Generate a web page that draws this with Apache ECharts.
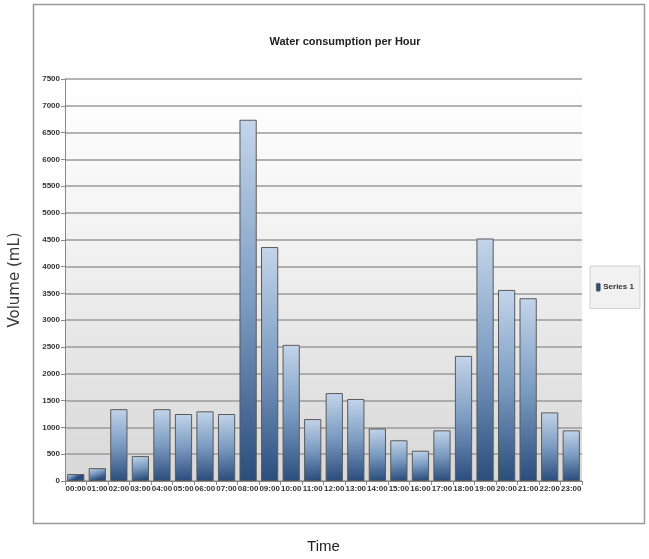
<!DOCTYPE html>
<html>
<head>
<meta charset="utf-8">
<script src="https://cdn.jsdelivr.net/npm/echarts@6/dist/echarts.min.js"></script>
<style>
  html, body { margin: 0; padding: 0; background: #fff; }
  #chart { width: 649px; height: 559px; }
</style>
</head>
<body>
<div id="chart"></div>
<script>
// hours of the day
const hours = ["00:00", "01:00", "02:00", "03:00", "04:00", "05:00", "06:00", "07:00",
  "08:00", "09:00", "10:00", "11:00", "12:00", "13:00", "14:00", "15:00",
  "16:00", "17:00", "18:00", "19:00", "20:00", "21:00", "22:00", "23:00"];
// volume in mL
const volume = [130, 240, 1340, 465, 1340, 1250, 1300, 1250,
  6740, 4365, 2540, 1155, 1640, 1530, 980, 760,
  565, 945, 2335, 4525, 3565, 3410, 1280, 945];
const seriesName = "Series 1";

const labelFont = "Liberation Sans";

const myChart = echarts.init(document.getElementById("chart"));
const option = {
  animation: false,
  title: {
    text: "Water consumption per Hour",
    left: 340,
    top: 31,
    textAlign: "center",
    textStyle: { fontFamily: labelFont, fontSize: 11, fontWeight: "bold", color: "#222" },
  },
  graphic: [
    {
      type: "rect",
      shape: { x: 33.5, y: 4.5, width: 611, height: 519 },
      style: { fill: "none", stroke: "#999", lineWidth: 1.5 },
      z: -1,
    },
  ],
  legend: {
    data: [seriesName],
    orient: "vertical",
    left: 590,
    top: 266,
    padding: [17, 6, 17, 6],
    itemWidth: 4,
    itemHeight: 8,
    itemGap: 3,
    backgroundColor: "#f1f1f1",
    borderColor: "#d0d0d0",
    borderWidth: 1,
    itemStyle: { color: "#2b4d7c", borderColor: "#555", borderWidth: 0.5 },
    textStyle: { fontFamily: labelFont, fontSize: 8, fontWeight: "bold", color: "#333", padding: [0, 0, 0, -2] },
  },
  grid: {
    left: 62,
    right: 67,
    top: 79,
    bottom: 77,
    show: true,
    borderWidth: 0,
    backgroundColor: {
      type: "linear", x: 0, y: 0, x2: 0, y2: 1,
      colorStops: [
        { offset: 0, color: "#ffffff" },
        { offset: 0.3, color: "#f6f6f6" },
        { offset: 1, color: "#d8d8d8" },
      ],
    },
  },
  xAxis: {
    type: "category",
    data: hours,
    name: "Time",
    nameLocation: "middle",
    nameGap: 58,
    nameTextStyle: { fontFamily: labelFont, fontSize: 15, color: "#222" },
    axisLine: { lineStyle: { color: "#888" } },
    axisTick: { show: true, alignWithLabel: false, length: 4, lineStyle: { color: "#888" } },
    axisLabel: { interval: 0, margin: 4, fontFamily: labelFont, fontSize: 8, fontWeight: "bold", color: "#333" },
  },
  yAxis: {
    type: "value",
    min: 0,
    max: 7500,
    interval: 500,
    name: "Volume (mL)",
    nameLocation: "middle",
    nameGap: 42,
    nameTextStyle: { fontFamily: "DejaVu Sans", fontSize: 15, color: "#3a3a3a" },
    axisLine: { show: true, lineStyle: { color: "#888" } },
    axisTick: { show: true, length: 4, lineStyle: { color: "#888" } },
    axisLabel: {
      margin: 5, fontFamily: labelFont, fontSize: 8, fontWeight: "bold", color: "#333",
      formatter: function (v) { return String(v); },
    },
    splitLine: { lineStyle: { color: "#9a9a9a", width: 1.5 } },
  },
  series: [
    {
      name: seriesName,
      type: "bar",
      data: volume,
      barCategoryGap: "20%",
      itemStyle: {
        borderColor: "#5a5a5a",
        borderWidth: 1,
        color: {
          type: "linear", x: 0, y: 0, x2: 0.25, y2: 1,
          colorStops: [
            { offset: 0, color: "#c4d5ea" },
            { offset: 0.5, color: "#7c9cc2" },
            { offset: 1, color: "#2b4d7c" },
          ],
        },
      },
    },
  ],
};
myChart.setOption(option);
window.onresize = function () {
  myChart.resize();
};
</script>
</body>
</html>
